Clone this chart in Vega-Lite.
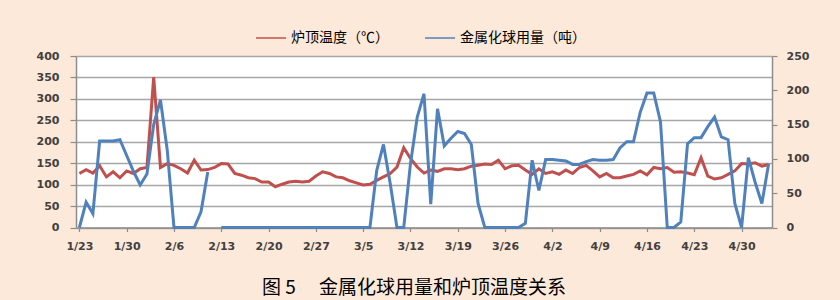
{
 "$schema": "https://vega.github.io/schema/vega-lite/v6.json",
 "autosize": {"type": "none"},
 "width": 696,
 "height": 171.5,
 "padding": {"left": 76, "top": 56, "right": 68, "bottom": 72.5},
 "background": "#FDE9D9",
 "config": {"view": {"fill": "white", "stroke": null}, "font": "DejaVu Sans"},
 "title": {"text": "图 5　 金属化球用量和炉顶温度关系", "orient": "bottom", "anchor": "middle", "font": "Noto Sans CJK SC", "fontSize": 19, "fontWeight": "normal", "color": "#000000", "offset": 27, "dx": -10},
 "data": {"values": [
  {"d":"2012-01-23","t":126,"m":0},
  {"d":"2012-01-24","t":135,"m":37},
  {"d":"2012-01-25","t":127,"m":20},
  {"d":"2012-01-26","t":144,"m":126},
  {"d":"2012-01-27","t":118,"m":126},
  {"d":"2012-01-28","t":130,"m":126},
  {"d":"2012-01-29","t":116,"m":128},
  {"d":"2012-01-30","t":132,"m":105},
  {"d":"2012-01-31","t":126,"m":82},
  {"d":"2012-02-01","t":137,"m":62},
  {"d":"2012-02-02","t":140,"m":78},
  {"d":"2012-02-03","t":351,"m":150},
  {"d":"2012-02-04","t":140,"m":186},
  {"d":"2012-02-05","t":149,"m":113},
  {"d":"2012-02-06","t":145,"m":0},
  {"d":"2012-02-07","t":137,"m":0},
  {"d":"2012-02-08","t":127,"m":0},
  {"d":"2012-02-09","t":157,"m":0},
  {"d":"2012-02-10","t":134,"m":23},
  {"d":"2012-02-11","t":135,"m":81},
  {"d":"2012-02-12","t":140,"m":null},
  {"d":"2012-02-13","t":149,"m":0},
  {"d":"2012-02-14","t":148,"m":0},
  {"d":"2012-02-15","t":126,"m":0},
  {"d":"2012-02-16","t":122,"m":0},
  {"d":"2012-02-17","t":116,"m":0},
  {"d":"2012-02-18","t":114,"m":0},
  {"d":"2012-02-19","t":106,"m":0},
  {"d":"2012-02-20","t":106,"m":0},
  {"d":"2012-02-21","t":95,"m":0},
  {"d":"2012-02-22","t":101,"m":0},
  {"d":"2012-02-23","t":106,"m":0},
  {"d":"2012-02-24","t":108,"m":0},
  {"d":"2012-02-25","t":106,"m":0},
  {"d":"2012-02-26","t":108,"m":0},
  {"d":"2012-02-27","t":120,"m":0},
  {"d":"2012-02-28","t":130,"m":0},
  {"d":"2012-02-29","t":126,"m":0},
  {"d":"2012-03-01","t":118,"m":0},
  {"d":"2012-03-02","t":116,"m":0},
  {"d":"2012-03-03","t":109,"m":0},
  {"d":"2012-03-04","t":104,"m":0},
  {"d":"2012-03-05","t":99,"m":0},
  {"d":"2012-03-06","t":101,"m":0},
  {"d":"2012-03-07","t":110,"m":83},
  {"d":"2012-03-08","t":118,"m":121},
  {"d":"2012-03-09","t":126,"m":64},
  {"d":"2012-03-10","t":141,"m":0},
  {"d":"2012-03-11","t":186,"m":0},
  {"d":"2012-03-12","t":161,"m":93},
  {"d":"2012-03-13","t":141,"m":161},
  {"d":"2012-03-14","t":127,"m":195},
  {"d":"2012-03-15","t":134,"m":34},
  {"d":"2012-03-16","t":131,"m":173},
  {"d":"2012-03-17","t":137,"m":119},
  {"d":"2012-03-18","t":137,"m":130},
  {"d":"2012-03-19","t":135,"m":140},
  {"d":"2012-03-20","t":137,"m":137},
  {"d":"2012-03-21","t":143,"m":121},
  {"d":"2012-03-22","t":145,"m":35},
  {"d":"2012-03-23","t":148,"m":0},
  {"d":"2012-03-24","t":147,"m":0},
  {"d":"2012-03-25","t":157,"m":0},
  {"d":"2012-03-26","t":137,"m":0},
  {"d":"2012-03-27","t":144,"m":0},
  {"d":"2012-03-28","t":145,"m":0},
  {"d":"2012-03-29","t":134,"m":6},
  {"d":"2012-03-30","t":124,"m":98},
  {"d":"2012-03-31","t":137,"m":54},
  {"d":"2012-04-01","t":126,"m":99},
  {"d":"2012-04-02","t":130,"m":99},
  {"d":"2012-04-03","t":124,"m":98},
  {"d":"2012-04-04","t":134,"m":97},
  {"d":"2012-04-05","t":126,"m":92},
  {"d":"2012-04-06","t":140,"m":92},
  {"d":"2012-04-07","t":145,"m":96},
  {"d":"2012-04-08","t":132,"m":99},
  {"d":"2012-04-09","t":118,"m":98},
  {"d":"2012-04-10","t":126,"m":98},
  {"d":"2012-04-11","t":116,"m":99},
  {"d":"2012-04-12","t":116,"m":116},
  {"d":"2012-04-13","t":120,"m":125},
  {"d":"2012-04-14","t":124,"m":125},
  {"d":"2012-04-15","t":132,"m":168},
  {"d":"2012-04-16","t":123,"m":196},
  {"d":"2012-04-17","t":140,"m":196},
  {"d":"2012-04-18","t":137,"m":154},
  {"d":"2012-04-19","t":140,"m":0},
  {"d":"2012-04-20","t":129,"m":0},
  {"d":"2012-04-21","t":130,"m":8},
  {"d":"2012-04-22","t":127,"m":122},
  {"d":"2012-04-23","t":123,"m":131},
  {"d":"2012-04-24","t":163,"m":131},
  {"d":"2012-04-25","t":120,"m":147},
  {"d":"2012-04-26","t":113,"m":161},
  {"d":"2012-04-27","t":116,"m":132},
  {"d":"2012-04-28","t":124,"m":128},
  {"d":"2012-04-29","t":132,"m":35},
  {"d":"2012-04-30","t":149,"m":0},
  {"d":"2012-05-01","t":148,"m":102},
  {"d":"2012-05-02","t":151,"m":66},
  {"d":"2012-05-03","t":143,"m":35},
  {"d":"2012-05-04","t":147,"m":93}
 ]},
 "encoding": {
  "x": {
   "field": "d", "type": "temporal",
   "scale": {"type": "utc", "domain": [{"year": 2012, "month": 1, "date": 22, "hours": 12, "utc": true}, {"year": 2012, "month": 5, "date": 4, "hours": 12, "utc": true}]},
   "axis": {
    "title": null, "grid": false, "labelExpr": "utcFormat(datum.value, '%-m/%-d')",
    "values": [
     {"year": 2012, "month": 1, "date": 23, "utc": true},
     {"year": 2012, "month": 1, "date": 30, "utc": true},
     {"year": 2012, "month": 2, "date": 6, "utc": true},
     {"year": 2012, "month": 2, "date": 13, "utc": true},
     {"year": 2012, "month": 2, "date": 20, "utc": true},
     {"year": 2012, "month": 2, "date": 27, "utc": true},
     {"year": 2012, "month": 3, "date": 5, "utc": true},
     {"year": 2012, "month": 3, "date": 12, "utc": true},
     {"year": 2012, "month": 3, "date": 19, "utc": true},
     {"year": 2012, "month": 3, "date": 26, "utc": true},
     {"year": 2012, "month": 4, "date": 2, "utc": true},
     {"year": 2012, "month": 4, "date": 9, "utc": true},
     {"year": 2012, "month": 4, "date": 16, "utc": true},
     {"year": 2012, "month": 4, "date": 23, "utc": true},
     {"year": 2012, "month": 4, "date": 30, "utc": true}
    ],
    "domainColor": "#8c8c8c", "domainWidth": 1.5, "tickColor": "#8c8c8c", "tickSize": 4, "tickWidth": 1.2,
    "labelFont": "DejaVu Sans", "labelFontSize": 11, "labelFontWeight": "bold", "labelColor": "#404040", "labelPadding": 9, "labelFlush": false, "labelOverlap": false
   }
  }
 },
 "layer": [
  {
   "mark": {"type": "line", "strokeWidth": 3, "invalid": "break-paths-show-domains"},
   "encoding": {
    "y": {"field": "t", "type": "quantitative", "scale": {"domain": [0, 400]},
     "axis": {"title": null, "orient": "left", "values": [0, 50, 100, 150, 200, 250, 300, 350, 400], "grid": true, "gridColor": "#a6a6a6", "gridWidth": 1.3,
      "domainColor": "#8c8c8c", "domainWidth": 1.5, "tickColor": "#8c8c8c", "tickSize": 6, "tickWidth": 1.2,
      "labelFont": "DejaVu Sans", "labelFontSize": 11, "labelFontWeight": "bold", "labelColor": "#404040", "labelPadding": 11}},
    "color": {"datum": "炉顶温度（℃）", "type": "nominal",
     "scale": {"domain": ["炉顶温度（℃）", "金属化球用量（吨）"], "range": ["#C0504D", "#4F81BD"]},
     "legend": {"title": null, "orient": "none", "legendX": 179, "legendY": -34, "direction": "horizontal",
      "symbolType": "stroke", "symbolSize": 900, "symbolStrokeWidth": 1.5, "labelFont": "Noto Sans CJK SC", "labelFontSize": 14,
      "labelColor": "#000000", "labelLimit": 300, "columnPadding": 33, "padding": 0, "labelOffset": 4}}
   }
  },
  {
   "mark": {"type": "line", "strokeWidth": 3, "invalid": "break-paths-show-domains"},
   "encoding": {
    "y": {"field": "m", "type": "quantitative", "scale": {"domain": [0, 250]},
     "axis": {"title": null, "orient": "right", "values": [0, 50, 100, 150, 200, 250], "grid": false,
      "domainColor": "#8c8c8c", "domainWidth": 1.5, "tickColor": "#8c8c8c", "tickSize": 5, "tickWidth": 1.2,
      "labelFont": "DejaVu Sans", "labelFontSize": 11, "labelFontWeight": "bold", "labelColor": "#404040", "labelPadding": 9}},
    "color": {"datum": "金属化球用量（吨）", "type": "nominal"}
   }
  }
 ],
 "resolve": {"scale": {"y": "independent"}}
}
